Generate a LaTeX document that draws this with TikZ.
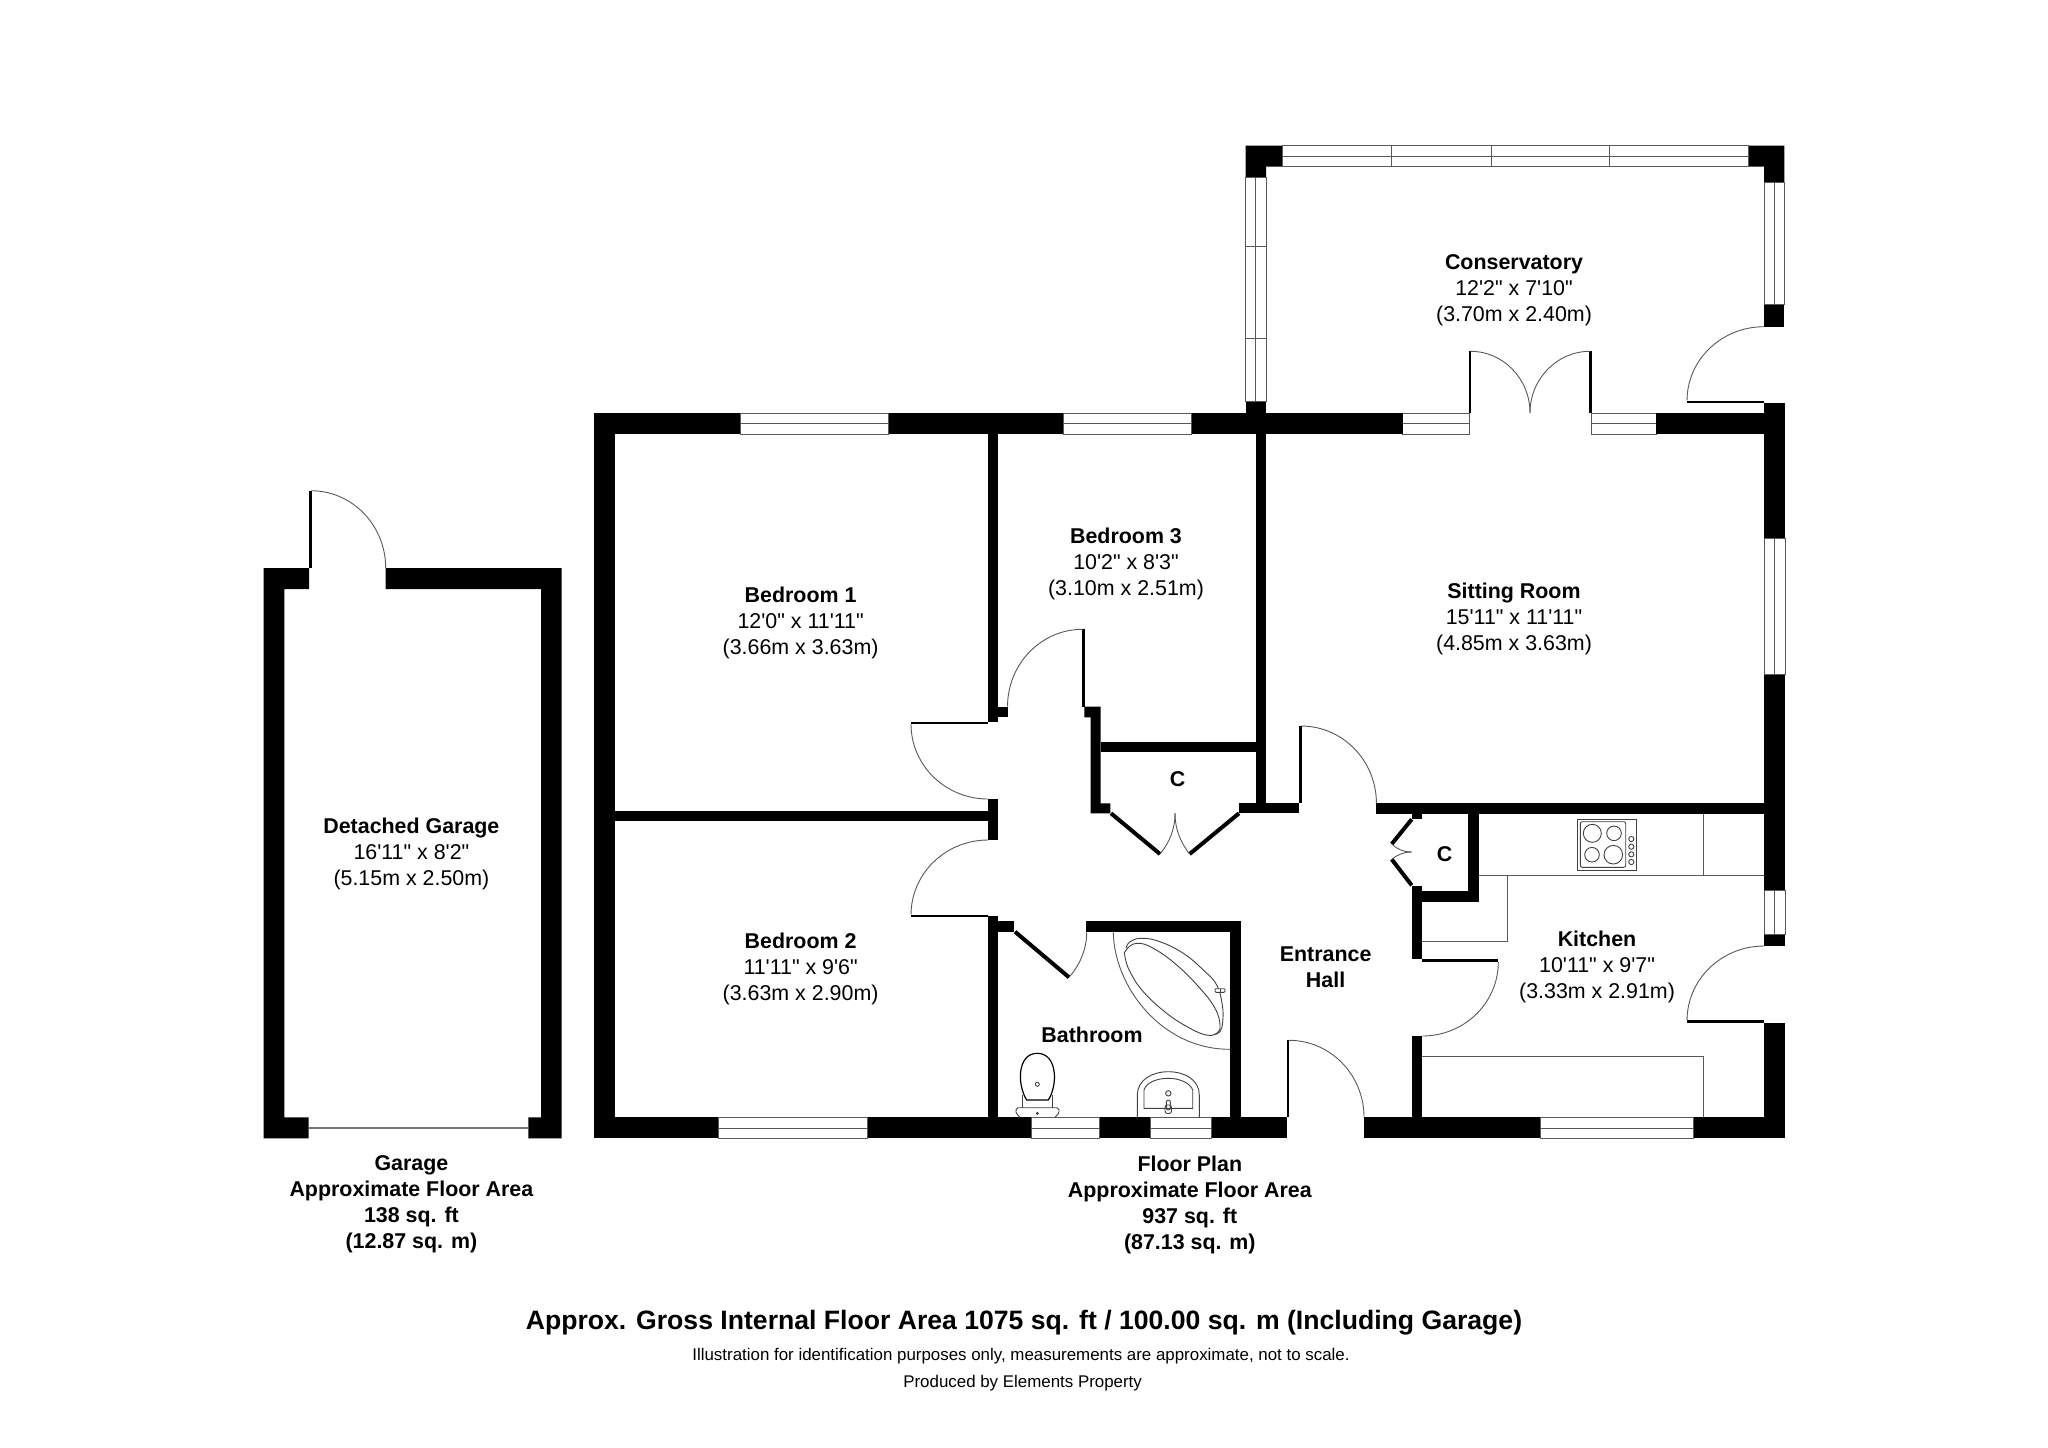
\documentclass[tikz,border=0pt]{standalone}
\usepackage{fontspec}
\setmainfont{Liberation Sans}[Ligatures=TeXOff]
\tikzset{
    wall/.style={fill=black},
    pane/.style={draw=black!65,line width=.5pt},
    leaf/.style={draw=black,line width=1.3pt},
    thickleaf/.style={draw=black,line width=2pt},
    swing/.style={draw=black!65,line width=.45pt},
    fitting/.style={draw=black!75,line width=.45pt},
    roomlabel/.style={align=center,inner sep=0pt,font=\fontsize{10.7}{13}\selectfont},
    arealabel/.style={align=center,inner sep=0pt,font=\fontsize{10.7}{13}\selectfont\bfseries},
    footlabel/.style={inner sep=0pt,font=\fontsize{8.45}{10}\selectfont}
}
\begin{document}
\begin{tikzpicture}[x=.5pt,y=-.5pt]
    \useasboundingbox (0,0) rectangle (2048,1447);
    \fill[white] (0,0) rectangle (2048,1447);
    \begin{scope}
        \fill[wall] (263.7,568) -- (309,568) -- (309,589) -- (284.3,589) -- (284.3,1117.3) -- (308.7,1117.3) -- (308.7,1138.3) -- (263.7,1138.3) -- cycle;
        \fill[wall] (385.7,568) -- (561.7,568) -- (561.7,1138.3) -- (528.3,1138.3) -- (528.3,1117.3) -- (541,1117.3) -- (541,589) -- (385.7,589) -- cycle;
        \draw[leaf] (310.4,568) -- (310.4,490.7);
        \draw[swing] (311,490.7) arc[start angle=-90,end angle=0,x radius=74.7,y radius=77.3];
        \draw[draw=black!55,line width=1pt] (308.7,1128.3) -- (528.3,1128.3);
    \end{scope}
    \fill[wall] (1245.5,145.7) -- (1282,145.7) -- (1282,166.7) -- (1266,166.7) -- (1266,177.7) -- (1245.5,177.7) -- cycle;
    \fill[wall] (1748.4,145.7) -- (1784.4,145.7) -- (1784.4,182.3) -- (1764,182.3) -- (1764,166.7) -- (1748.4,166.7) -- cycle;
    \draw[pane] (1282,145.7) rectangle (1748.4,166.7);
    \draw[pane] (1282,156.3) -- (1748.4,156.3);
    \draw[pane] (1391.4,145.7) -- (1391.4,166.7);
    \draw[pane] (1491.4,145.7) -- (1491.4,166.7);
    \draw[pane] (1609,145.7) -- (1609,166.7);
    \draw[pane] (1245.5,177.7) rectangle (1266,401.7);
    \draw[pane] (1255.8,177.7) -- (1255.8,401.7);
    \draw[pane] (1245.5,246.3) -- (1266,246.3);
    \draw[pane] (1245.5,338.3) -- (1266,338.3);
    \draw[pane] (1764,182.3) rectangle (1784.4,304.7);
    \draw[pane] (1774,182.3) -- (1774,304.7);
    \fill[wall] (1764,304.7) rectangle (1784.4,326.7);
    \fill[wall] (1245.5,401.7) rectangle (1266,413);
    \draw[leaf] (1687,402) -- (1764,402);
    \draw[swing] (1764,326.7) arc[start angle=-90,end angle=-180,x radius=77,y radius=74];
    \draw[pane] (1402.8,413) rectangle (1469,434);
    \draw[pane] (1402.8,423.3) -- (1469,423.3);
    \draw[pane] (1591.5,413) rectangle (1656,434);
    \draw[pane] (1591.5,423.3) -- (1656,423.3);
    \draw[leaf] (1470,413) -- (1470,351.3);
    \draw[leaf] (1590.5,413) -- (1590.5,351.3);
    \draw[swing] (1470.5,351.3) arc[start angle=-90,end angle=0,x radius=59.5,y radius=61.7];
    \draw[swing] (1590,351.3) arc[start angle=-90,end angle=-180,x radius=60,y radius=61.7];
    \fill[wall] (594,413) rectangle (740,434);
    \fill[wall] (888,413) rectangle (1063,434);
    \fill[wall] (1191,413) rectangle (1402.8,434);
    \fill[wall] (1656,413) rectangle (1764,434);
    \fill[wall] (594,413) rectangle (614.5,1138.3);
    \fill[wall] (1764,403.3) rectangle (1785,538);
    \fill[wall] (1764,674) rectangle (1785,890);
    \fill[wall] (1764,934) rectangle (1785,946);
    \fill[wall] (1764,1023.3) rectangle (1785,1138.3);
    \draw[pane] (740,413) rectangle (888,434);
    \draw[pane] (740,423.3) -- (888,423.3);
    \draw[pane] (1063,413) rectangle (1191,434);
    \draw[pane] (1063,423.3) -- (1191,423.3);
    \draw[pane] (1764,538) rectangle (1785,674);
    \draw[pane] (1774.7,538) -- (1774.7,674);
    \draw[pane] (1764,890) rectangle (1785,934);
    \draw[pane] (1774.7,890) -- (1774.7,934);
    \draw[leaf] (1687,1021.3) -- (1764,1021.3);
    \draw[swing] (1764,946) arc[start angle=-90,end angle=-180,x radius=77,y radius=74.7];
    \fill[wall] (594,1117.3) rectangle (718,1138.3);
    \fill[wall] (867,1117.3) rectangle (1031,1138.3);
    \fill[wall] (1099,1117.3) rectangle (1150,1138.3);
    \fill[wall] (1211.7,1117.3) rectangle (1286.7,1138.3);
    \fill[wall] (1364,1117.3) rectangle (1540,1138.3);
    \fill[wall] (1693.3,1117.3) rectangle (1785,1138.3);
    \draw[pane] (718,1117.3) rectangle (867,1138.3);
    \draw[pane] (718,1128) -- (867,1128);
    \draw[pane] (1031,1117.3) rectangle (1099,1138.3);
    \draw[pane] (1031,1128) -- (1099,1128);
    \draw[pane] (1150,1117.3) rectangle (1211.7,1138.3);
    \draw[pane] (1150,1128) -- (1211.7,1128);
    \draw[pane] (1540,1117.3) rectangle (1693.3,1138.3);
    \draw[pane] (1540,1128) -- (1693.3,1128);
    \fill[wall] (988,434) rectangle (998,721.7);
    \fill[wall] (998,706.7) rectangle (1007.5,717.3);
    \fill[wall] (988,799) rectangle (998,840);
    \fill[wall] (614,811) rectangle (988,821);
    \fill[wall] (988,916) rectangle (998,1117.3);
    \fill[wall] (998,921.3) rectangle (1014,932.3);
    \draw[leaf] (911,723) -- (988,723);
    \draw[swing] (911,724) arc[start angle=180,end angle=90,x radius=77,y radius=75];
    \draw[leaf] (911,915.8) -- (988,915.8);
    \draw[swing] (911,915) arc[start angle=180,end angle=270,x radius=77,y radius=75];
    \draw[leaf] (1083.3,629.3) -- (1083.3,706.7);
    \draw[swing] (1007.5,706.7) arc[start angle=180,end angle=270,x radius=75,y radius=77.4];
    \fill[wall] (1084.3,706.7) -- (1100.7,706.7) -- (1100.7,803.3) -- (1110.4,803.3) -- (1110.4,813.3) -- (1090.7,813.3) -- (1090.7,717.3) -- (1084.3,717.3) -- cycle;
    \fill[wall] (1100.7,741.7) rectangle (1256,752.3);
    \fill[wall] (1256,434) rectangle (1266,803.3);
    \fill[wall] (1239,803.3) rectangle (1299,813.3);
    \draw[thickleaf] (1111,813.3) -- (1160,854);
    \draw[thickleaf] (1239,813.3) -- (1189.6,854);
    \draw[swing] (1160,854) .. controls (1169,843) and (1175,830) .. (1175,813);
    \draw[swing] (1189.6,854) .. controls (1181,843) and (1175,830) .. (1175,813);
    \draw[leaf] (1300.5,726) -- (1300.5,803.3);
    \draw[swing] (1301,726) arc[start angle=-90,end angle=0,x radius=75.4,y radius=77.3];
    \fill[wall] (1376.4,803.3) rectangle (1764,814);
    \fill[wall] (1411.7,814) rectangle (1422.3,818.7);
    \draw[thickleaf] (1411.7,819.3) -- (1391.7,844);
    \draw[thickleaf] (1391.7,859.3) -- (1411.7,885.3);
    \draw[swing] (1391.7,844) .. controls (1397,849) and (1403,852) .. (1411.7,852);
    \draw[swing] (1391.7,859.3) .. controls (1397,855) and (1403,852) .. (1411.7,852);
    \fill[wall] (1468.3,814) rectangle (1478.7,901.7);
    \fill[wall] (1411.7,891) rectangle (1478.7,901.7);
    \fill[wall] (1411.7,886) rectangle (1422.3,959.3);
    \draw[leaf] (1422.3,960.7) -- (1498.3,960.7);
    \draw[swing] (1498.3,962) arc[start angle=0,end angle=90,x radius=76,y radius=74];
    \fill[wall] (1411.7,1036) rectangle (1422.3,1117.3);
    \fill[wall] (1085.7,921.3) rectangle (1240.7,932.3);
    \fill[wall] (1230,932.3) rectangle (1240.7,1117.3);
    \draw[thickleaf] (1015,931.7) -- (1069,977.3);
    \draw[swing] (1069,977.3) .. controls (1079,966) and (1086.7,950) .. (1086.7,932.3);
    \draw[leaf] (1288,1040.3) -- (1288,1117.3);
    \draw[swing] (1289,1040.3) arc[start angle=-90,end angle=0,x radius=75,y radius=77];
    \draw[swing] (1478.7,875.3) -- (1764,875.3);
    \draw[swing] (1703.3,814) -- (1703.3,875.3);
    \draw[swing] (1507.7,875.3) -- (1507.7,941.3) -- (1422.3,941.3);
    \draw[swing] (1422.3,1056) -- (1703.3,1056) -- (1703.3,1117.3);
    \draw[fitting] (1577.3,819) rectangle (1636.7,870.3);
    \draw[fitting,rounded corners=1pt] (1580.3,821.7) rectangle (1625.7,867.3);
    \draw[fitting] (1592.3,833.3) circle (9);
    \draw[fitting] (1614,833.3) circle (7.3);
    \draw[fitting] (1592,854.7) circle (7.3);
    \draw[fitting] (1613.3,854.7) circle (9.3);
    \foreach \knoby in {839,846.7,854.3,862}
        \draw[fitting] (1631.3,\knoby) circle (2.6);
    \draw[swing] (1113.3,932.3) .. controls (1114,985) and (1160,1049.3) .. (1230,1049.3);
    \draw[fitting] plot[smooth cycle,tension=.7] coordinates {(1126,950) (1136.7,943.3) (1153.3,948.3) (1176.7,965) (1200,988.3) (1215,1008.3) (1220,1025) (1216.7,1033.3) (1206.7,1035) (1190,1028.3) (1166.7,1013.3) (1143.3,991.7) (1130,971.7) (1125,956.7)};
    \draw[fitting] plot[smooth,tension=.7] coordinates {(1126,948.3) (1130,941.7) (1141.7,938.3) (1160,941.7) (1183.3,953.3) (1203.3,970) (1216.7,985) (1222.3,1005) (1222.7,1021.7) (1220,1031.7) (1215,1034.3)};
    \draw[fitting,fill=white,rounded corners=.5pt] (1215,988.7) rectangle (1225,992.3);
    \draw[fitting] (1220,988.7) -- (1220,992.3);
    \draw[draw=black,line width=.6pt] (1026.7,1100) .. controls (1017,1085) and (1017,1053.3) .. (1037.3,1053.3) .. controls (1057.5,1053.3) and (1058,1085) .. (1048.3,1100) -- cycle;
    \draw[fitting] (1022.3,1095) -- (1022.3,1107.7);
    \draw[fitting] (1052.7,1095) -- (1052.7,1107.7);
    \draw[fitting] (1020,1117.3) .. controls (1016,1114) and (1014,1110) .. (1018,1107.7) -- (1057,1107.7) .. controls (1061,1110) and (1059,1114) .. (1055,1117.3);
    \draw[fitting] (1037.3,1084.3) circle (2);
    \draw[fitting] (1037.3,1113.3) circle (1);
    \draw[fitting] (1137.3,1117.3) -- (1137.3,1095) .. controls (1137.3,1080) and (1152,1071.7) .. (1168.3,1071.7) .. controls (1185,1071.7) and (1199.3,1080) .. (1199.3,1095) -- (1199.3,1117.3);
    \draw[fitting] (1144,1108.3) -- (1144,1090) .. controls (1146,1083) and (1156,1078.3) .. (1168.3,1078.3) .. controls (1180,1078.3) and (1190,1083) .. (1192.7,1090) -- (1192.7,1108.3) -- cycle;
    \draw[fitting] (1168.3,1093.3) circle (2.7);
    \draw[fitting,rounded corners=1pt] (1166.3,1100) rectangle (1170.3,1110);
    \draw[fitting,rounded corners=1.2pt] (1165,1105) rectangle (1171.5,1113.5);
    \node[roomlabel] (conservatory) at (1514,290.6) {\textbf{Conservatory}\\12'2" x 7'10"\\(3.70m x 2.40m)};
    \node[roomlabel] (bedroomone) at (800.6,622.6) {\textbf{Bedroom 1}\\12'0" x 11'11"\\(3.66m x 3.63m)};
    \node[roomlabel] (bedroomthree) at (1126,564.2) {\textbf{Bedroom 3}\\10'2" x 8'3"\\(3.10m x 2.51m)};
    \node[roomlabel] (sittingroom) at (1514,619.1) {\textbf{Sitting Room}\\15'11" x 11'11"\\(4.85m x 3.63m)};
    \node[roomlabel] (bedroomtwo) at (800.6,969.2) {\textbf{Bedroom 2}\\11'11" x 9'6"\\(3.63m x 2.90m)};
    \node[roomlabel] (garage) at (411.4,854.2) {\textbf{Detached Garage}\\16'11" x 8'2"\\(5.15m x 2.50m)};
    \node[roomlabel] (kitchen) at (1597,966.6) {\textbf{Kitchen}\\10'11" x 9'7"\\(3.33m x 2.91m)};
    \node[arealabel] (entrancehall) at (1325.6,967.5) {Entrance\\Hall};
    \node[arealabel] (bathroom) at (1092,1034.5) {Bathroom};
    \node[arealabel] (cupboardhall) at (1177.5,779.5) {C};
    \node[arealabel] (cupboardkitchen) at (1444.6,854) {C};
    \node[arealabel] (garagearea) at (411.4,1204.5) {Garage\\Approximate Floor Area\\138 sq. ft\\(12.87 sq. m)};
    \node[arealabel] (floorarea) at (1189.8,1204.5) {Floor Plan\\Approximate Floor Area\\937 sq. ft\\(87.13 sq. m)};
    \node[inner sep=0pt,font=\fontsize{13.3}{15}\selectfont\bfseries] (grossarea) at (1024,1323) {Approx. Gross Internal Floor Area 1075 sq. ft / 100.00 sq. m (Including Garage)};
    \node[footlabel] (disclaimer) at (1021,1356.5) {Illustration for identification purposes only, measurements are approximate, not to scale.};
    \node[footlabel] (producedby) at (1022.6,1383) {Produced by Elements Property};
\end{tikzpicture}
\end{document}
